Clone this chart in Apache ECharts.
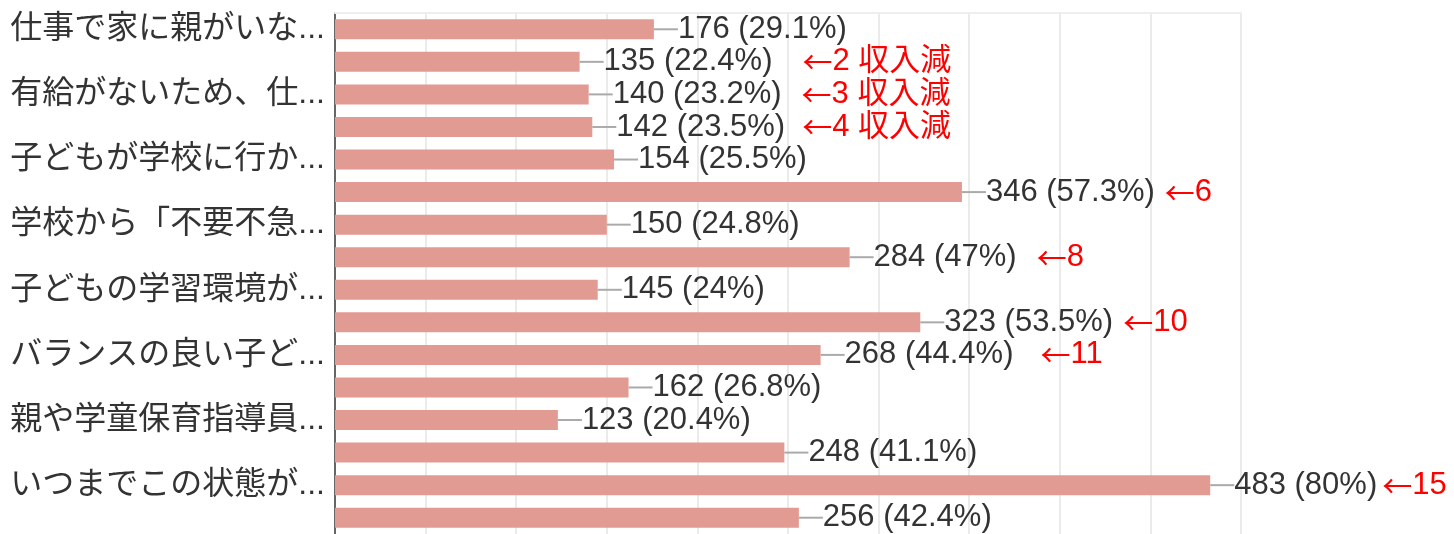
<!DOCTYPE html>
<html>
<head>
<meta charset="utf-8">
<script src="https://cdn.jsdelivr.net/npm/echarts@6/dist/echarts.min.js"></script>
<style>
  html, body { margin: 0; padding: 0; background: #fff; }
  #chart { width: 1454px; height: 534px; }
</style>
</head>
<body>
<div id="chart"></div>
<script>
const categories = [
  '仕事で家に親がいないため、子どもだけで過ごさせている',
  '仕事を休まざるを得ず、収入が減る',
  '有給がないため、仕事を休むと収入が減る',
  '自営業のため仕事が減り、収入が減る',
  '子どもが学校に行かないことでストレスを感じている',
  '子どもの運動不足が心配',
  '学校から「不要不急の外出は控える」よう言われている',
  '子どもが外で遊べない',
  '子どもの学習環境が整わない',
  '子どもの生活リズムが乱れる',
  'バランスの良い子どもの食事が用意できない',
  '昼食の準備が負担',
  '親や学童保育指導員の感染が心配',
  '学童保育の利用を控えている',
  'いつまでこの状態が続くのか不安',
  '学校の再開後の学習の遅れが心配'
];
const counts = [176, 135, 140, 142, 154, 346, 150, 284, 145, 323, 268, 162, 123, 248, 483, 256];
const percents = ['29.1', '22.4', '23.2', '23.5', '25.5', '57.3', '24.8', '47', '24', '53.5', '44.4', '26.8', '20.4', '41.1', '80', '42.4'];
const notes = ['', '←2 収入減', '←3 収入減', '←4 収入減', '', '←6', '', '←8', '', '←10', '←11', '', '', '', '←15', ''];

// gap before each red note (style only)
const noteGap = [0, 30, 20, 17, 0, 10, 0, 20, 0, 10, 27, 0, 0, 0, 5, 0];

const font = "'Liberation Sans', 'Noto Sans CJK JP', sans-serif";
const cjk = "'Noto Sans CJK JP', sans-serif";

const rich = {
  v: { color: '#333', fontSize: 31, fontFamily: font },
  t: { color: '#ff0000', fontSize: 31, fontFamily: font }
};
noteGap.forEach((g, i) => {
  rich['a' + i] = { color: '#ff0000', fontSize: 30, fontFamily: cjk, padding: [0, 0, 0, g] };
});

const myChart = echarts.init(document.getElementById('chart'));
myChart.setOption({
  animation: false,
  grid: {
    left: 335,
    right: 213,
    top: 13,
    bottom: 0,
    containLabel: false,
  },
  xAxis: {
    type: 'value',
    min: 0,
    max: 500,
    interval: 50,
    position: 'top',
    axisLabel: { show: false },
    axisTick: { show: false },
    axisLine: { show: true, lineStyle: { color: '#eeeeee', width: 2 } },
    splitLine: { lineStyle: { color: '#ebebeb', width: 2 } },
  },
  yAxis: {
    type: 'category',
    data: categories,
    inverse: true,
    axisTick: { show: false },
    axisLine: { lineStyle: { color: '#666', width: 2 } },
    axisLabel: {
      interval: 1,
      color: '#333',
      fontSize: 32,
      fontFamily: font,
      margin: 10,
      width: 322,
      overflow: 'truncate',
      ellipsis: '...',
    },
  },
  series: [
    {
      type: 'bar',
      data: counts,
      barWidth: 20,
      itemStyle: { color: '#e29b92' },
      label: {
        show: true,
        position: 'right',
        distance: 2,
        formatter: (p) => {
          const i = p.dataIndex;
          let s = '{v|' + counts[i] + ' (' + percents[i] + '%)}';
          if (notes[i]) {
            s += '{a' + i + '|' + notes[i].charAt(0) + '}{t|' + notes[i].slice(1) + '}';
          }
          return s;
        },
        rich: rich,
      },
      labelLayout: { dx: 22 },
      labelLine: {
        show: true,
        lineStyle: { color: '#aaa', width: 2 },
      },
    },
  ],
});
</script>
</body>
</html>
